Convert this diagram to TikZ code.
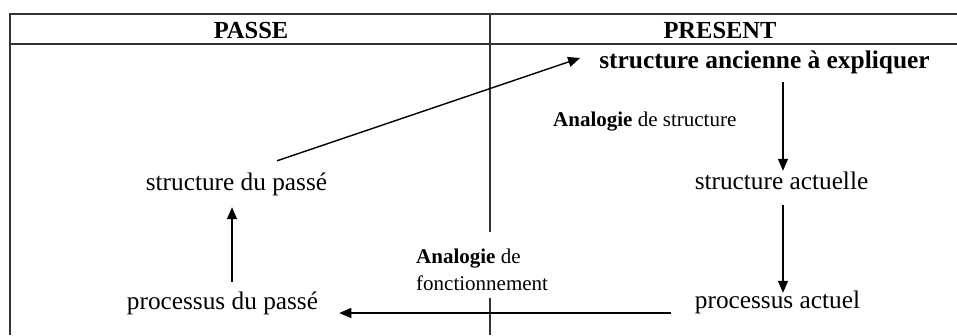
\documentclass[tikz,border=0pt]{standalone}
\usepackage{fontspec}
\setmainfont{Liberation Serif}
\usetikzlibrary{arrows.meta,calc}
\tikzset{
  grid/.style={line width=1.3pt,draw=black!80},
  txt/.style={inner sep=0pt,anchor=base,text height=17pt,text depth=5pt,font=\fontsize{25.3}{30}\selectfont},
  btxt/.style={txt,font=\fontsize{25.4}{30}\selectfont\bfseries},
  head/.style={inner sep=0pt,anchor=base,font=\fontsize{24.5}{28}\selectfont\bfseries},
  small/.style={inner sep=0pt,anchor=base west,font=\fontsize{21}{27}\selectfont,align=left},
  arr/.style={line width=1.4pt,-{Triangle[length=12pt,width=10pt]}}
}
\begin{document}
\begin{tikzpicture}[x=1pt,y=-1pt]
\useasboundingbox (0,0) rectangle (957,335);
% table
\draw[grid] (957,14) -- (10,14) -- (10,335);
\draw[grid] (10,44) -- (957,44);
\draw[grid] (490,14) -- (490,232);
\draw[grid] (490,298) -- (490,335);
\node[head] (passe) at (251,38) {PASSE};
\node[head] (present) at (720,38) {PRESENT};
% nodes
\node[btxt] (sae) at (764.5,68) {structure ancienne à expliquer};
\node[txt] (sa) at (781.5,189) {structure actuelle};
\node[txt] (sdp) at (236.5,190) {structure du passé};
\node[txt] (pdp) at (222.5,309) {processus du passé};
\node[txt] (pa) at (777.5,308) {processus actuel};
\node[small] (las) at (553,126) {\textbf{Analogie} de structure};
\node[small] (laf) at (416,290) {\textbf{Analogie} de\\fonctionnement};
% arrows
\draw[arr] ($(sdp.north)+(40.5,-12)$) -- ($(sae.west)+(-19,-4)$);
\draw[arr] ($(sae.south)+(18.5,9)$) -- ($(sa.north)+(1.5,-1)$);
\draw[arr] ($(sa.south)+(1.5,11)$) -- ($(pa.north)+(5.5,2)$);
\draw[arr] ($(pdp.north)+(9.5,-10)$) -- ($(sdp.south)+(-4.5,12)$);
\draw[arr] ($(pa.west)+(-24,11)$) -- ($(pdp.east)+(21,10)$);
\end{tikzpicture}
\end{document}
